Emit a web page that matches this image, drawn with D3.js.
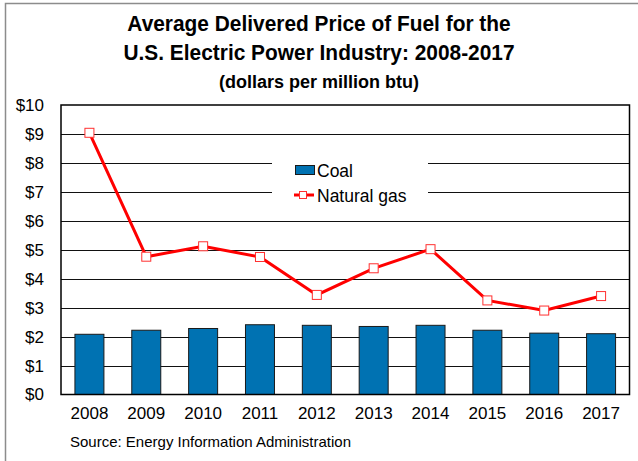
<!DOCTYPE html>
<html>
<head>
<meta charset="utf-8">
<script src="https://cdn.jsdelivr.net/npm/d3@7"></script>
<style>
  body { margin: 0; background: #fff; }
  text { font-family: "Liberation Sans", Arial, sans-serif; fill: #000; }
</style>
</head>
<body>
<div class="chart"></div>
<script>
var years = ['2008', '2009', '2010', '2011', '2012', '2013', '2014', '2015', '2016', '2017'];
var coal = [2.08, 2.22, 2.28, 2.41, 2.39, 2.35, 2.39, 2.22, 2.12, 2.10];
var naturalGas = [9.04, 4.76, 5.12, 4.75, 3.44, 4.36, 5.02, 3.25, 2.90, 3.40];
var yTicks = [0, 1, 2, 3, 4, 5, 6, 7, 8, 9, 10];
var titleLines = ['Average Delivered Price of Fuel for the', 'U.S. Electric Power Industry: 2008-2017'];
var subtitle = '(dollars per million btu)';
var source = 'Source: Energy Information Administration';

var width = 638,
    height = 461,
    plot = {left: 61, right: 629.5, top: 105, bottom: 394.5};

var svg = d3.select('.chart').append('svg')
  .attr('width', width)
  .attr('height', height);

// outer frame
svg.append('rect')
  .attr('x', 5.5).attr('y', 3.5)
  .attr('width', 660).attr('height', 480)
  .attr('fill', 'none')
  .attr('stroke', '#8c8c8c')
  .attr('stroke-width', 1.5);

// titles (slightly condensed like the original)
svg.selectAll('.title').data(titleLines).enter().append('text')
  .attr('class', 'title')
  .attr('transform', function(d, i) { return 'translate(319,' + (31 + i * 29) + ') scale(0.95,1)'; })
  .attr('text-anchor', 'middle')
  .style('font-size', '22px')
  .style('font-weight', 'bold')
  .text(function(d) { return d; });

svg.append('text')
  .attr('x', 319).attr('y', 88)
  .attr('text-anchor', 'middle')
  .style('font-size', '18px')
  .style('font-weight', 'bold')
  .text(subtitle);

var x = d3.scaleBand()
  .domain(years)
  .range([plot.left, plot.right])
  .paddingInner(0.49)
  .paddingOuter(0.245);

var y = d3.scaleLinear()
  .domain([0, 10])
  .range([plot.bottom, plot.top]);

// gridlines
svg.append('g').attr('class', 'grid')
  .selectAll('line').data(yTicks.slice(1, -1)).enter().append('line')
  .attr('x1', plot.left).attr('x2', plot.right)
  .attr('y1', function(d) { return Math.round(y(d)) + 0.5; })
  .attr('y2', function(d) { return Math.round(y(d)) + 0.5; })
  .attr('stroke', '#111')
  .attr('stroke-width', 1);

// y axis labels
var yAxis = svg.append('g')
  .attr('transform', 'translate(' + plot.left + ',0)')
  .call(d3.axisLeft(y).tickValues(yTicks).tickSize(0).tickPadding(17)
    .tickFormat(function(d) { return '$' + d; }));
yAxis.select('.domain').remove();
yAxis.selectAll('text')
  .style('font-family', '"Liberation Sans", Arial, sans-serif')
  .style('font-size', '17px')
  .attr('fill', '#000');

// x axis labels
var xAxis = svg.append('g')
  .attr('transform', 'translate(0,' + plot.bottom + ')')
  .call(d3.axisBottom(x).tickSize(0).tickPadding(12));
xAxis.select('.domain').remove();
xAxis.selectAll('text')
  .style('font-family', '"Liberation Sans", Arial, sans-serif')
  .style('font-size', '17px')
  .attr('fill', '#000');

// coal bars
svg.append('g').attr('class', 'bars')
  .selectAll('rect').data(coal).enter().append('rect')
  .attr('x', function(d, i) { return x(years[i]); })
  .attr('y', function(d) { return y(d); })
  .attr('width', x.bandwidth())
  .attr('height', function(d) { return plot.bottom - y(d); })
  .attr('fill', '#0072b2')
  .attr('stroke', '#1a1a1a')
  .attr('stroke-width', 1);

// plot area border
svg.append('rect')
  .attr('x', plot.left).attr('y', plot.top)
  .attr('width', plot.right - plot.left)
  .attr('height', plot.bottom - plot.top)
  .attr('fill', 'none')
  .attr('stroke', '#000')
  .attr('stroke-width', 1.5);

// legend
var legend = svg.append('g').attr('class', 'legend');
legend.append('rect')
  .attr('x', 272).attr('y', 150)
  .attr('width', 156).attr('height', 60)
  .attr('fill', '#fff');
legend.append('rect')
  .attr('x', 295.5).attr('y', 165.5)
  .attr('width', 19).attr('height', 9)
  .attr('fill', '#0072b2')
  .attr('stroke', '#1a1a1a');
legend.append('text')
  .attr('x', 317).attr('y', 176.5)
  .style('font-size', '17.5px')
  .text('Coal');
legend.append('line')
  .attr('x1', 294).attr('x2', 314)
  .attr('y1', 195).attr('y2', 195)
  .attr('stroke', '#ff0000')
  .attr('stroke-width', 3);
legend.append('rect')
  .attr('x', 299.5).attr('y', 191.5)
  .attr('width', 7).attr('height', 7)
  .attr('fill', '#fff')
  .attr('stroke', '#ff3030');
legend.append('text')
  .attr('x', 317).attr('y', 201.5)
  .style('font-size', '17.5px')
  .text('Natural gas');

// natural gas line
var line = d3.line()
  .x(function(d, i) { return x(years[i]) + x.bandwidth() / 2; })
  .y(function(d) { return y(d); });

svg.append('path')
  .datum(naturalGas)
  .attr('d', line)
  .attr('fill', 'none')
  .attr('stroke', '#ff0000')
  .attr('stroke-width', 3)
  .attr('stroke-linejoin', 'miter');

svg.append('g').attr('class', 'markers')
  .selectAll('rect').data(naturalGas).enter().append('rect')
  .attr('x', function(d, i) { return x(years[i]) + x.bandwidth() / 2 - 4.5; })
  .attr('y', function(d) { return y(d) - 4.5; })
  .attr('width', 9).attr('height', 9)
  .attr('fill', '#fff')
  .attr('stroke', '#ff3030')
  .attr('stroke-width', 1);

// source
svg.append('text')
  .attr('x', 70).attr('y', 447)
  .style('font-size', '15px')
  .text(source);
</script>
</body>
</html>
